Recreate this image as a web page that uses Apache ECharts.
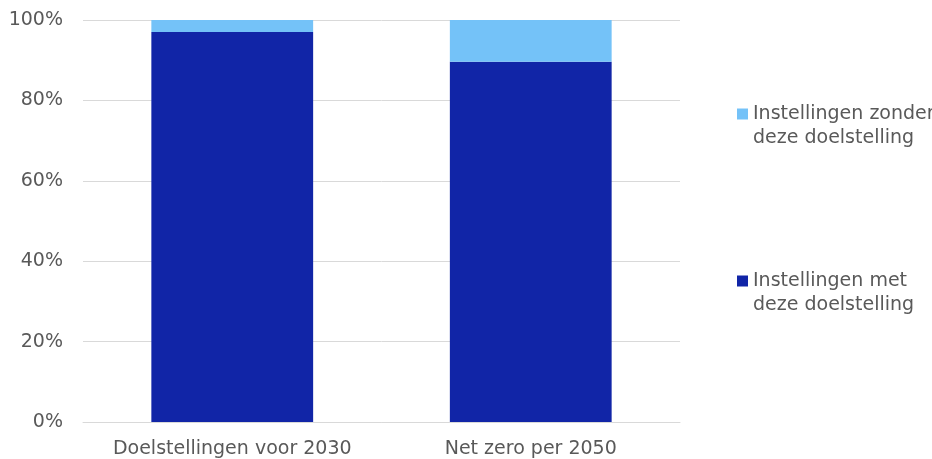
<!DOCTYPE html>
<html>
<head>
<meta charset="utf-8">
<script src="https://cdn.jsdelivr.net/npm/echarts@6/dist/echarts.min.js"></script>
<style>
  html, body { margin: 0; padding: 0; background: #fff; }
  #chart { width: 932px; height: 459px; }
</style>
</head>
<body>
<div id="chart"></div>
<script>
// Share of institutions with and without each target (percent)
const categories = ['Doelstellingen voor 2030', 'Net zero per 2050'];
const metDoel = [97, 89.6];
const zonderDoel = [3, 10.4];
const seriesNames = ['Instellingen met\ndeze doelstelling', 'Instellingen zonder\ndeze doelstelling'];
const yTicks = [0, 20, 40, 60, 80, 100];

const FONT = 'DejaVu Sans';
const TEXT = '#595959';

const chart = echarts.init(document.getElementById('chart'), null, { renderer: 'canvas' });

// Legend labels: a leading blank line keeps the first text line level with the swatch
const legendBase = {
  left: 737,
  padding: 0,
  itemWidth: 11,
  itemHeight: 11,
  itemGap: 5,
  icon: 'rect',
  selectedMode: false,
  formatter: name => '\n' + name,
  textStyle: { fontFamily: FONT, fontSize: 19, color: TEXT, lineHeight: 24 }
};

chart.setOption({
  animation: false,
  grid: { left: 83, right: 252, top: 20, bottom: 36 },
  xAxis: {
    type: 'category',
    data: categories,
    axisTick: { show: false },
    axisLine: { lineStyle: { color: '#d9d9d9', width: 1 } },
    axisLabel: { fontFamily: FONT, fontSize: 19, color: TEXT, margin: 18, interval: 0 }
  },
  yAxis: {
    type: 'value',
    min: yTicks[0],
    max: yTicks[yTicks.length - 1],
    interval: yTicks[1] - yTicks[0],
    axisLabel: {
      fontFamily: FONT, fontSize: 19, color: TEXT, margin: 20,
      lineHeight: 19, padding: [5, 0, 0, 0],
      formatter: '{value}%'
    },
    splitLine: { lineStyle: { color: '#d9d9d9', width: 1 } },
    axisLine: { show: false },
    axisTick: { show: false }
  },
  legend: [
    Object.assign({}, legendBase, { data: [seriesNames[1]], top: 78 }),
    Object.assign({}, legendBase, { data: [seriesNames[0]], top: 245 })
  ],
  series: [
    {
      name: seriesNames[0],
      type: 'bar',
      stack: 'total',
      data: metDoel,
      barWidth: '54.2%',
      itemStyle: { color: '#1125A7' }
    },
    {
      name: seriesNames[1],
      type: 'bar',
      stack: 'total',
      data: zonderDoel,
      barWidth: '54.2%',
      itemStyle: { color: '#74C2F8' }
    }
  ]
});
</script>
</body>
</html>
